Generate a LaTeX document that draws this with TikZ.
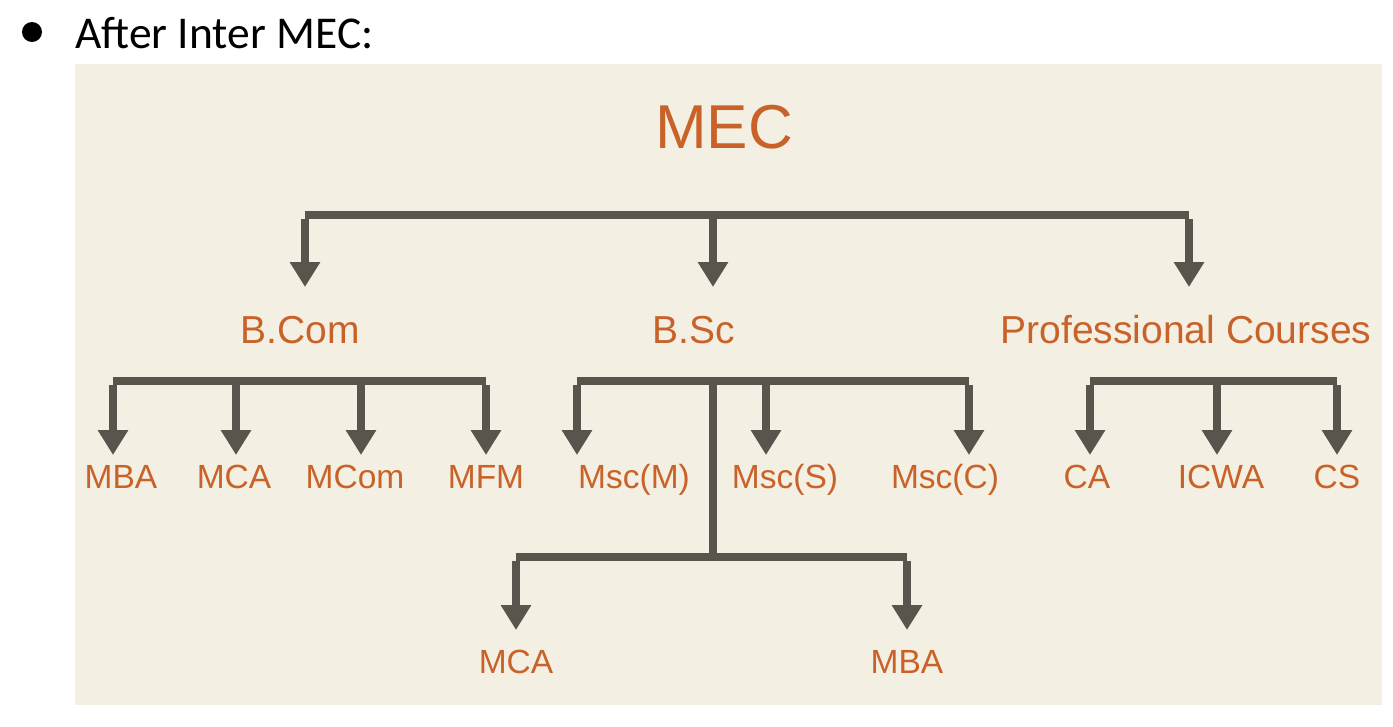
\documentclass[tikz,border=0pt]{standalone}
\usepackage{fontspec}
\setmainfont{Liberation Sans}
\newfontfamily\hdrfont{Carlito}
\usetikzlibrary{arrows.meta}
\definecolor{panelbg}{RGB}{243,239,227}
\definecolor{labelor}{RGB}{201,98,40}
\definecolor{linegray}{RGB}{88,86,76}
\tikzset{
  lbl/.style={anchor=base, inner sep=0pt, text=labelor, font=\fontsize{39}{46}\selectfont},
  leaf/.style={anchor=base, inner sep=0pt, text=labelor, font=\fontsize{33.5}{40}\selectfont},
  conn/.style={draw=linegray, line width=8.5pt, line join=miter},
  arr/.style={conn, -{Triangle[width=29pt,length=25pt]}},
}
\begin{document}
\begin{tikzpicture}[x=1pt,y=-1pt]
\useasboundingbox (0,0) rectangle (1393,726);
\fill[white] (0,0) rectangle (1393,726);
\fill[panelbg] (75,64) rectangle (1382,705);
% header
\fill[black] (32,32) circle (10);
\node[anchor=base west, inner sep=0pt, font=\hdrfont\fontsize{45.5}{52}\selectfont] (hdr) at (75,48) {After Inter MEC:};
% titles
\node[anchor=base, inner sep=0pt, text=labelor, font=\fontsize{62}{70}\selectfont] (mec) at (724,148) {MEC};
\node[lbl] (bcom) at (300,343) {B.Com};
\node[lbl] (bsc) at (694,343) {B.Sc};
\node[lbl] (prof) at (1186,343) {Professional Courses};
% leaves
\node[leaf] (mba1) at (121,488) {MBA};
\node[leaf] (mca1) at (234,488) {MCA};
\node[leaf] (mcom) at (355,488) {MCom};
\node[leaf] (mfm) at (486,488) {MFM};
\node[leaf] (mscm) at (634,488) {Msc(M)};
\node[leaf] (mscs) at (785,488) {Msc(S)};
\node[leaf] (mscc) at (945,488) {Msc(C)};
\node[leaf] (ca) at (1087,488) {CA};
\node[leaf] (icwa) at (1221,488) {ICWA};
\node[leaf] (cs) at (1337,488) {CS};
\node[leaf] (mca2) at (516,673) {MCA};
\node[leaf] (mba2) at (907,673) {MBA};
% junction coordinates
\coordinate (t1) at (305,215);
\coordinate (t2) at (713,215);
\coordinate (t3) at (1189,215);
\coordinate (tip-bcom) at (305,287);
\coordinate (tip-bsc) at (713,287);
\coordinate (tip-prof) at (1189,287);
% top level
\draw[conn] (t1) -- (t3);
\draw[arr] ([yshift=-4pt]t1) -- (tip-bcom);
\draw[arr] (t2) -- (tip-bsc);
\draw[arr] ([yshift=-4pt]t3) -- (tip-prof);
% B.Com group
\coordinate (b1) at (113,381);
\coordinate (b2) at (236,381);
\coordinate (b3) at (361,381);
\coordinate (b4) at (486,381);
\draw[conn] (b1) -- (b4);
\draw[arr] ([yshift=-4pt]b1) -- (113,455);
\draw[arr] (b2) -- (236,455);
\draw[arr] (b3) -- (361,455);
\draw[arr] ([yshift=-4pt]b4) -- (486,455);
% B.Sc group
\coordinate (s1) at (577,381);
\coordinate (s2) at (713,381);
\coordinate (s3) at (766,381);
\coordinate (s4) at (969,381);
\coordinate (s5) at (713,557);
\coordinate (u1) at (516,557);
\coordinate (u2) at (907,557);
\draw[conn] (s1) -- (s4);
\draw[arr] ([yshift=-4pt]s1) -- (577,455);
\draw[arr] (s3) -- (766,455);
\draw[arr] ([yshift=-4pt]s4) -- (969,455);
\draw[conn] (s2) -- (s5);
\draw[conn] (u1) -- (u2);
\draw[arr] ([yshift=-4pt]u1) -- (516,630);
\draw[arr] ([yshift=-4pt]u2) -- (907,630);
% Professional group
\coordinate (p1) at (1090,381);
\coordinate (p2) at (1217,381);
\coordinate (p3) at (1337,381);
\draw[conn] (p1) -- (p3);
\draw[arr] ([yshift=-4pt]p1) -- (1090,455);
\draw[arr] (p2) -- (1217,455);
\draw[arr] ([yshift=-4pt]p3) -- (1337,455);
\end{tikzpicture}
\end{document}
